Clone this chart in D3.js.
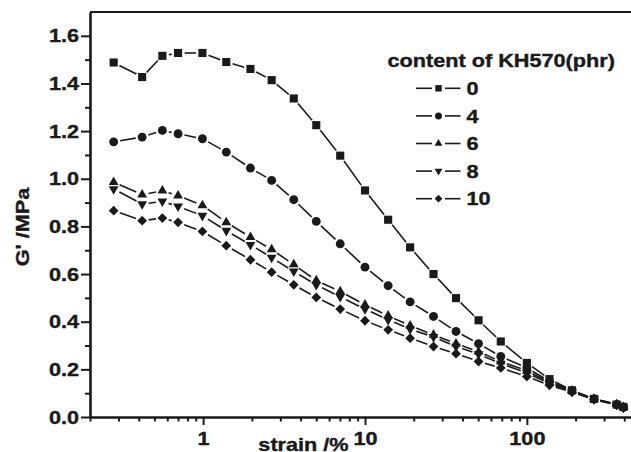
<!DOCTYPE html>
<html>
<head>
<meta charset="utf-8">
<script src="https://cdn.jsdelivr.net/npm/d3@7"></script>
<style>
  body { margin: 0; background: #fff; }
  svg text { font-family: "Liberation Sans", Arial, sans-serif; font-weight: bold; fill: #1a1a1a; }
</style>
</head>
<body>
<div id="chart"></div>
<script>
// strain sweep (%)
var strain = [0.28, 0.42, 0.56, 0.70, 0.99, 1.39, 1.96, 2.65, 3.63, 5.0, 7.03, 10,
  13.9, 19, 26.5, 36.5, 50.3, 69, 100, 138, 190, 260, 359, 395];

// content of KH570 (phr)
var contents = ["0", "4", "6", "8", "10"];

// G' (MPa) for each content
var g0 = [1.488, 1.427, 1.516, 1.528, 1.528, 1.490, 1.461, 1.414, 1.337, 1.225, 1.097, 0.951,
  0.828, 0.712, 0.600, 0.499, 0.406, 0.317, 0.227, 0.159, 0.112, 0.076, 0.052, 0.042];
var g4 = [1.155, 1.175, 1.203, 1.189, 1.168, 1.112, 1.045, 0.993, 0.912, 0.821, 0.727, 0.629,
  0.551, 0.483, 0.422, 0.359, 0.308, 0.254, 0.206, 0.150, 0.110, 0.076, 0.053, 0.042];
var g6 = [0.986, 0.933, 0.950, 0.929, 0.888, 0.817, 0.755, 0.703, 0.640, 0.573, 0.527, 0.471,
  0.425, 0.383, 0.345, 0.308, 0.274, 0.233, 0.194, 0.145, 0.110, 0.076, 0.054, 0.041];
var g8 = [0.957, 0.894, 0.905, 0.884, 0.845, 0.782, 0.723, 0.669, 0.611, 0.555, 0.504, 0.453,
  0.408, 0.369, 0.336, 0.296, 0.264, 0.224, 0.185, 0.140, 0.107, 0.075, 0.052, 0.040];
var g10 = [0.866, 0.824, 0.835, 0.817, 0.779, 0.719, 0.660, 0.608, 0.555, 0.502, 0.453, 0.404,
  0.366, 0.331, 0.296, 0.266, 0.233, 0.206, 0.170, 0.133, 0.104, 0.073, 0.050, 0.038];

var yTicks = [0, 0.2, 0.4, 0.6, 0.8, 1.0, 1.2, 1.4, 1.6];
var yMinor = [0.1, 0.3, 0.5, 0.7, 0.9, 1.1, 1.3, 1.5];
var xTicks = [1, 10, 100];
var xMinor = [0.2, 0.3, 0.4, 0.5, 0.6, 0.7, 0.8, 0.9,
  2, 3, 4, 5, 6, 7, 8, 9, 20, 30, 40, 50, 60, 70, 80, 90, 200, 300, 400];

var series = [g0, g4, g6, g8, g10];
var shapes = ["square", "circle", "up", "down", "diamond"];

var width = 631, height = 452;
var plotLeft = 90, plotRight = 640, plotTop = 12, plotBottom = 417;
var ink = "#1a1a1a";

var svg = d3.select("#chart").append("svg")
  .attr("width", width)
  .attr("height", height);

var x = d3.scaleLog().domain([0.2, 500]).range([plotLeft, plotRight]);
var y = d3.scaleLinear().domain([0, 1.7]).range([plotBottom, plotTop]);

// marker path by shape name
function marker(shape, big) {
  var k = big ? 1 : 0.62;
  if (shape == "square") return d3.symbol(d3.symbolSquare, 66 * k)();
  if (shape == "circle") return d3.symbol(d3.symbolCircle, 62 * k)();
  if (shape == "up" || shape == "down") return d3.symbol(d3.symbolTriangle, 42 * k)();
  return d3.symbol(d3.symbolSquare, 48 * k)();
}
function rot(shape) {
  if (shape == "down") return " rotate(180)";
  if (shape == "diamond") return " rotate(45)";
  return "";
}

// axes
var xAxis = svg.append("g")
  .attr("transform", "translate(0," + plotBottom + ")")
  .call(d3.axisBottom(x).tickValues(xTicks).tickFormat(d3.format("d"))
    .tickSize(8).tickSizeOuter(0).tickPadding(7));
var xMin = svg.append("g")
  .attr("transform", "translate(0," + plotBottom + ")")
  .call(d3.axisBottom(x).tickValues(xMinor).tickFormat("").tickSize(4.5).tickSizeOuter(0));
xMin.select(".domain").remove();

var yAxis = svg.append("g")
  .attr("transform", "translate(" + plotLeft + ",0)")
  .call(d3.axisLeft(y).tickValues(yTicks).tickFormat(d3.format(".1f"))
    .tickSize(9).tickSizeOuter(0).tickPadding(2));
var yMin = svg.append("g")
  .attr("transform", "translate(" + plotLeft + ",0)")
  .call(d3.axisLeft(y).tickValues(yMinor).tickFormat("").tickSize(5).tickSizeOuter(0));
yMin.select(".domain").remove();

svg.selectAll(".tick line").attr("stroke", ink).attr("stroke-width", 2);
svg.selectAll(".domain").attr("stroke", ink).attr("stroke-width", 2.6);
svg.selectAll(".tick text").attr("font-size", 19).attr("fill", ink)
  .style("font-family", "'Liberation Sans', Arial, sans-serif").style("font-weight", "bold");

// top frame line
svg.append("line")
  .attr("x1", plotLeft).attr("x2", plotRight)
  .attr("y1", y(1.7)).attr("y2", y(1.7))
  .attr("stroke", ink).attr("stroke-width", 2.2);

// lines with a small gap at each symbol
var gap = 6.5;
series.forEach(function(vals, s) {
  var pts = strain.map(function(d, i) { return [x(d), y(vals[i])]; });
  var g = svg.append("g");
  for (var i = 0; i < pts.length - 1; i++) {
    var dx = pts[i + 1][0] - pts[i][0], dy = pts[i + 1][1] - pts[i][1];
    var len = Math.sqrt(dx * dx + dy * dy);
    if (len <= 2 * gap + 1) continue;
    var ux = dx / len, uy = dy / len;
    g.append("line")
      .attr("x1", pts[i][0] + ux * gap).attr("y1", pts[i][1] + uy * gap)
      .attr("x2", pts[i + 1][0] - ux * gap).attr("y2", pts[i + 1][1] - uy * gap)
      .attr("stroke", ink).attr("stroke-width", 1.6);
  }
});

// symbols
series.forEach(function(vals, s) {
  svg.append("g").selectAll("path")
    .data(strain)
    .join("path")
    .attr("d", marker(shapes[s], true))
    .attr("transform", function(d, i) { return "translate(" + x(d) + "," + y(vals[i]) + ")" + rot(shapes[s]); })
    .attr("fill", ink);
});

// legend
var legend = svg.append("g");
legend.append("text")
  .attr("x", 387.5).attr("y", 66.7)
  .attr("font-size", 19)
  .text("content of KH570(phr)");

contents.forEach(function(c, i) {
  var ry = 88.3 + i * 27.6;
  var row = legend.append("g");
  row.append("line").attr("x1", 416).attr("x2", 432).attr("y1", ry).attr("y2", ry)
    .attr("stroke", ink).attr("stroke-width", 1.6);
  row.append("line").attr("x1", 445).attr("x2", 460.5).attr("y1", ry).attr("y2", ry)
    .attr("stroke", ink).attr("stroke-width", 1.6);
  row.append("path")
    .attr("d", marker(shapes[i], false))
    .attr("transform", "translate(438.5," + ry + ")" + rot(shapes[i]))
    .attr("fill", ink);
  row.append("text")
    .attr("x", 466.5).attr("y", ry + 6.7)
    .attr("font-size", 19)
    .text(c);
});

// axis titles
svg.append("text")
  .attr("transform", "translate(29,227) rotate(-90)")
  .attr("text-anchor", "middle")
  .attr("font-size", 19)
  .text("G' /MPa");

svg.append("text")
  .attr("x", 303.5).attr("y", 450.5)
  .attr("text-anchor", "middle")
  .attr("font-size", 19)
  .text("strain /%");

// the lettering in the figure is a little wider and heavier than Arial bold
svg.selectAll("text").each(function() {
  var w = this.getComputedTextLength();
  d3.select(this).attr("textLength", w * 1.14).attr("lengthAdjust", "spacingAndGlyphs")
    .attr("stroke", ink).attr("stroke-width", 0.4);
});
</script>
</body>
</html>
